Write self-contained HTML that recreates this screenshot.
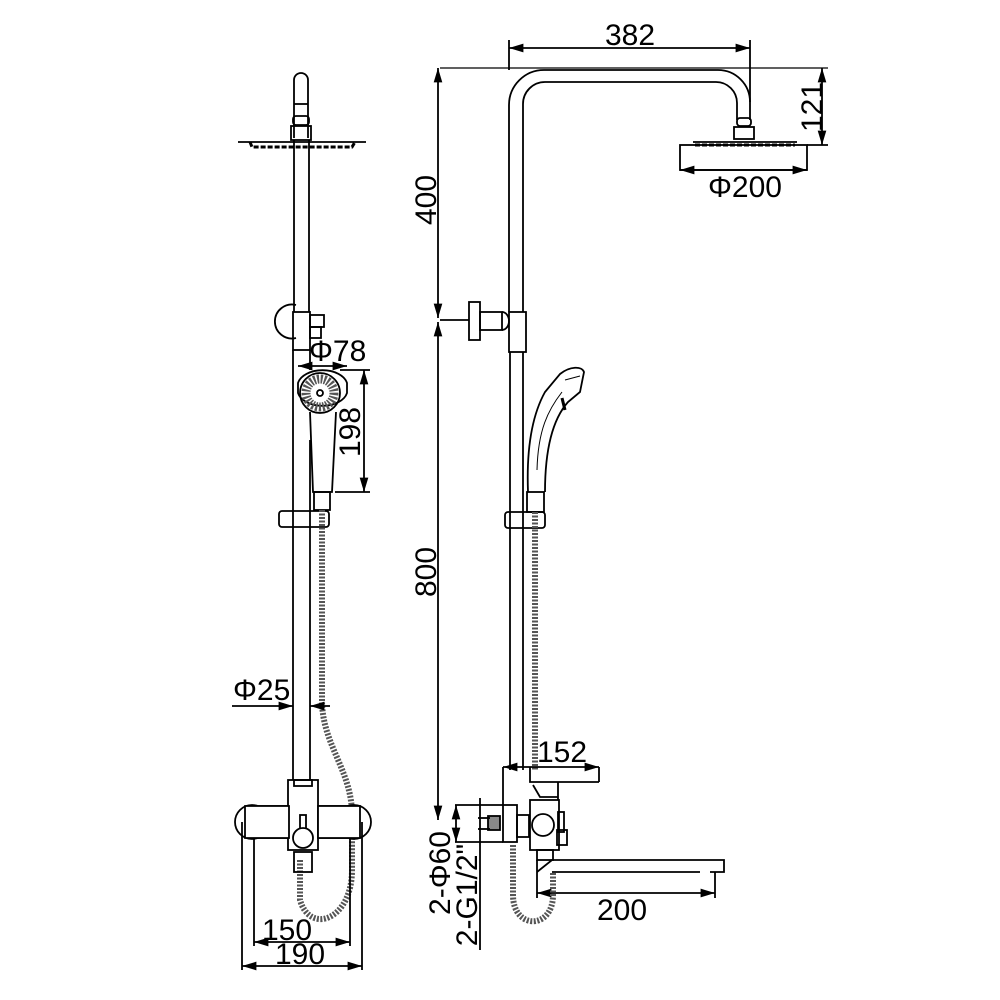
<!DOCTYPE html>
<html><head><style>html,body{margin:0;padding:0;background:#fff}svg{display:block}</style></head>
<body>
<svg width="1000" height="1000" viewBox="0 0 1000 1000" xmlns="http://www.w3.org/2000/svg">
<defs>
<marker id="a" viewBox="0 0 10 6" refX="10" refY="3" markerWidth="8" markerHeight="5" orient="auto-start-reverse"><path d="M0,0L10,3L0,6z" fill="#000"/></marker>
</defs>
<g fill="none" stroke="#000" stroke-width="1.8">
<!-- LEFT VIEW -->
<path d="M294,138V80a7,7 0 0 1 14,0V138"/>
<line x1="294" y1="104" x2="308" y2="104"/>
<rect x="293" y="116" width="16" height="9" rx="3"/>
<rect x="291" y="126" width="20" height="14"/>
<line x1="238" y1="142" x2="366" y2="142"/>
<path d="M250,142L252,147H352L355,142" stroke-width="3" stroke-dasharray="5 2"/>
<line x1="294" y1="140" x2="294" y2="312"/>
<line x1="309" y1="140" x2="309" y2="312"/>
<path d="M296,305a17,17 0 1 0 0,33"/>
<rect x="293" y="312" width="17" height="38"/>
<rect x="310" y="315" width="14" height="12"/>
<rect x="310" y="327" width="11" height="11"/>
<line x1="293" y1="350" x2="293" y2="780"/>
<line x1="310" y1="350" x2="310" y2="370"/>
<line x1="310" y1="440" x2="310" y2="780"/>
<!-- hand shower -->
<path d="M298,383a25,16 0 0 1 49,0v10a25,16 0 0 1 -49,0z"/>
<circle cx="320" cy="393" r="20"/>
<circle cx="320" cy="393" r="14" stroke-width="9" stroke="#555" stroke-dasharray="2 1.5"/>
<circle cx="320" cy="393" r="3"/>
<path d="M310,412L313,492H332L336,412"/>
<rect x="314" y="492" width="16" height="18"/>
<rect x="279" y="511" width="50" height="16" rx="3"/>
<!-- hose -->
<path d="M322,510V700C322,745 352,770 352,815V870C352,920 310,935 300,900V860" stroke-width="6" stroke="#555" stroke-dasharray="2 1.5"/>
<!-- valve -->
<rect x="288" y="780" width="30" height="70"/>
<rect x="294" y="780" width="18" height="6"/>
<path d="M258,806H289M318,806H348M258,838H289M318,838H348"/>
<circle cx="252" cy="822" r="17"/>
<circle cx="354" cy="822" r="17"/>
<path d="M245,806H289V838H245z M318,806H360V838H318z" fill="#fff"/>
<rect x="300" y="815" width="6" height="15"/>
<circle cx="303" cy="838" r="10" fill="#fff"/>
<rect x="294" y="852" width="18" height="20"/>
<!-- dims left -->
<line x1="232" y1="706" x2="293" y2="706" marker-end="url(#a)"/>
<line x1="310" y1="706" x2="330" y2="706" marker-start="url(#a)"/>
<line x1="298" y1="366" x2="347" y2="366" marker-start="url(#a)" marker-end="url(#a)"/>
<line x1="340" y1="370" x2="370" y2="370"/><line x1="335" y1="492" x2="370" y2="492"/>
<line x1="364" y1="370" x2="364" y2="492" marker-start="url(#a)" marker-end="url(#a)"/>
<line x1="254" y1="838" x2="254" y2="946"/><line x1="350" y1="838" x2="350" y2="946"/>
<line x1="254" y1="942" x2="350" y2="942" marker-start="url(#a)" marker-end="url(#a)"/>
<line x1="242" y1="822" x2="242" y2="970"/><line x1="362" y1="822" x2="362" y2="970"/>
<line x1="242" y1="966" x2="362" y2="966" marker-start="url(#a)" marker-end="url(#a)"/>

<!-- RIGHT VIEW -->
<path d="M509,312V105A35,35 0 0 1 544,70H718A32,32 0 0 1 750,102V120"/>
<path d="M523,312V104A22,22 0 0 1 545,82H716A21,21 0 0 1 737,103V120"/>
<rect x="737" y="118" width="14" height="8" rx="3"/>
<rect x="734" y="127" width="20" height="12"/>
<line x1="693" y1="142" x2="797" y2="142"/>
<path d="M695,145H795" stroke-width="3" stroke-dasharray="5 2"/>
<rect x="680" y="145" width="127" height="25"/>
<line x1="440" y1="68" x2="828" y2="68" stroke-width="1.2"/>
<line x1="509" y1="40" x2="509" y2="70"/><line x1="750" y1="40" x2="750" y2="102"/>
<line x1="509" y1="48" x2="750" y2="48" marker-start="url(#a)" marker-end="url(#a)"/>
<line x1="807" y1="145" x2="828" y2="145"/>
<line x1="822" y1="68" x2="822" y2="145" marker-start="url(#a)" marker-end="url(#a)"/>
<line x1="680" y1="170" x2="807" y2="170" marker-start="url(#a)" marker-end="url(#a)"/>
<line x1="438" y1="68" x2="438" y2="318" marker-start="url(#a)" marker-end="url(#a)"/>
<line x1="438" y1="322" x2="438" y2="820" marker-start="url(#a)" marker-end="url(#a)"/>
<line x1="440" y1="320" x2="469" y2="320"/>
<rect x="469" y="302" width="11" height="38"/>
<rect x="480" y="312" width="22" height="18"/>
<path d="M502,312a7,9 0 0 1 0,18"/>
<rect x="509" y="312" width="17" height="40"/>
<line x1="510" y1="352" x2="510" y2="770"/>
<line x1="523" y1="352" x2="523" y2="770"/>
<!-- right hand shower -->
<path d="M528,492C526,440 535,410 545,392L560,374C570,366 582,366 584,372L580,392L568,402C552,420 545,450 545,492"/>
<path d="M537,470C538,430 548,410 562,392" stroke-width="1"/>
<path d="M565,380L580,376" stroke-width="1"/>
<path d="M562,398l3,12" stroke-width="3"/>
<rect x="527" y="492" width="17" height="20"/>
<rect x="505" y="512" width="40" height="16" rx="3"/>
<path d="M535,512V770" stroke-width="6" stroke="#555" stroke-dasharray="2 1.5"/>
<!-- right valve -->
<line x1="503" y1="767" x2="503" y2="805"/><line x1="599" y1="767" x2="599" y2="782"/>
<line x1="503" y1="767" x2="599" y2="767" marker-start="url(#a)" marker-end="url(#a)"/>
<path d="M530,767V782H599M535,782H558V800"/>
<path d="M533,785L540,797H558"/>
<rect x="530" y="800" width="29" height="50"/>
<circle cx="543" cy="825" r="11"/>
<rect x="558" y="812" width="6" height="20"/>
<rect x="557" y="830" width="10" height="15"/>
<rect x="503" y="805" width="14" height="37"/>
<rect x="517" y="815" width="12" height="22"/>
<rect x="488" y="816" width="12" height="14" fill="#888"/>
<line x1="455" y1="805" x2="503" y2="805"/><line x1="455" y1="842" x2="503" y2="842"/>
<line x1="456" y1="805" x2="456" y2="842" marker-start="url(#a)" marker-end="url(#a)"/>
<line x1="480" y1="798" x2="480" y2="950"/>
<line x1="478" y1="818" x2="490" y2="818"/><line x1="478" y1="829" x2="490" y2="829"/>
<rect x="537" y="850" width="16" height="10"/>
<path d="M537,872L552,860H724V872H710M552,872H700"/>
<line x1="537" y1="860" x2="537" y2="898"/><line x1="715" y1="872" x2="715" y2="898"/>
<line x1="537" y1="893" x2="715" y2="893" marker-start="url(#a)" marker-end="url(#a)"/>
<path d="M513,845V895C513,930 553,930 553,895V872" stroke-width="6" stroke="#555" stroke-dasharray="2 1.5"/>
</g>
<g font-family="Liberation Sans, sans-serif" font-size="30" fill="#000">
<text x="309" y="361">Φ78</text>
<text x="233" y="700">Φ25</text>
<text x="287" y="940" text-anchor="middle">150</text>
<text x="300" y="964" text-anchor="middle">190</text>
<text x="630" y="45" text-anchor="middle">382</text>
<text x="745" y="197" text-anchor="middle">Φ200</text>
<text x="562" y="762" text-anchor="middle">152</text>
<text x="622" y="920" text-anchor="middle">200</text>
<text transform="translate(360,432) rotate(-90)" text-anchor="middle">198</text>
<text transform="translate(822,107) rotate(-90)" text-anchor="middle">121</text>
<text transform="translate(436,200) rotate(-90)" text-anchor="middle">400</text>
<text transform="translate(436,572) rotate(-90)" text-anchor="middle">800</text>
<text transform="translate(450,873) rotate(-90)" text-anchor="middle">2-Φ60</text>
<text transform="translate(477,895) rotate(-90)" text-anchor="middle">2-G1/2"</text>
</g>
</svg>
</body></html>
